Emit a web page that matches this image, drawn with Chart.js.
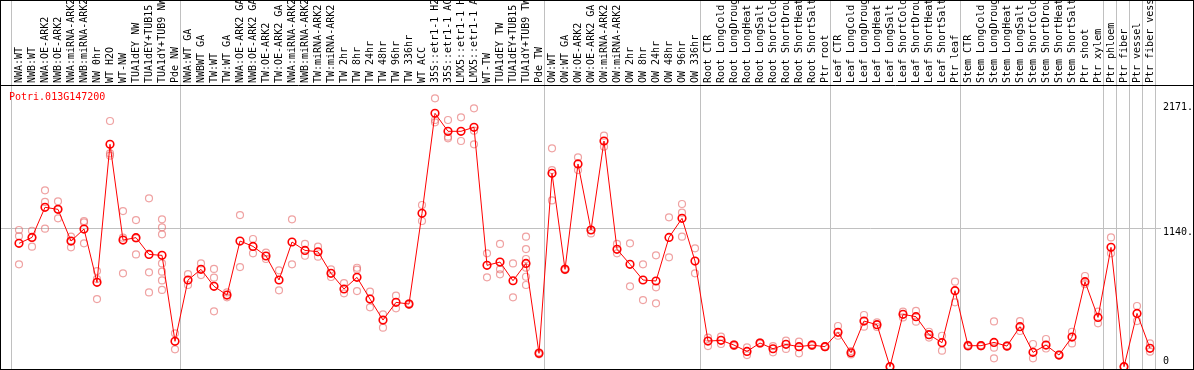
<!DOCTYPE html>
<html>
<head>
<meta charset="utf-8">
<script src="https://cdn.jsdelivr.net/npm/chart.js@4"></script>
<style>
  html, body { margin: 0; padding: 0; background: #fff; }
  canvas { display: block; }
</style>
</head>
<body>
<canvas id="chart" width="1194" height="370"></canvas>
<script>
// gene name shown top-left
const geneName = 'Potri.013G147200';

const categories = [
  'NWA:WT', 'NWB:WT', 'NWA:OE-ARK2', 'NWB:OE-ARK2', 'NWA:miRNA-ARK2', 'NWB:miRNA-ARK2',
  'NW 0hr', 'WT H2O', 'WT-NW', 'TUA1dEY NW', 'TUA1dEY+TUB15', 'TUA1dY+TUB9 NW', 'Pde NW',
  'NWA:WT GA', 'NWBWT GA', 'TW:WT', 'TW:WT GA', 'NWA:OE-ARK2 GA', 'NWB:OE-ARK2 GA',
  'TW:OE-ARK2', 'TW:OE-ARK2 GA', 'NWA:miRNA-ARK2', 'NWB:miRNA-ARK2', 'TW:miRNA-ARK2',
  'TW:miRNA-ARK2', 'TW 2hr', 'TW 8hr', 'TW 24hr', 'TW 48hr', 'TW 96hr', 'TW 336hr',
  'WT ACC', '35S::etr1-1 H2O', '35S::etr1-1 ACC', 'LMX5::etr1-1 H2O', 'LMX5::etr1-1 ACC',
  'WT-TW', 'TUA1dEY TW', 'TUA1dEY+TUB15', 'TUA1dY+TUB9 TW', 'Pde TW',
  'OW:WT', 'OW:WT GA', 'OW:OE-ARK2', 'OW:OE-ARK2 GA', 'OW:miRNA-ARK2', 'OW:miRNA-ARK2',
  'OW 2hr', 'OW 8hr', 'OW 24hr', 'OW 48hr', 'OW 96hr', 'OW 336hr',
  'Root CTR', 'Root LongCold', 'Root LongDrought', 'Root LongHeat', 'Root LongSalt',
  'Root ShortCold', 'Root ShortDrought', 'Root ShortHeat', 'Root ShortSalt', 'Ptr root',
  'Leaf CTR', 'Leaf LongCold', 'Leaf LongDrought', 'Leaf LongHeat', 'Leaf LongSalt',
  'Leaf ShortCold', 'Leaf ShortDrought', 'Leaf ShortHeat', 'Leaf ShortSalt', 'Ptr leaf',
  'Stem CTR', 'Stem LongCold', 'Stem LongDrought', 'Stem LongHeat', 'Stem LongSalt',
  'Stem ShortCold', 'Stem ShortDrought', 'Stem ShortHeat', 'Stem ShortSalt', 'Ptr shoot',
  'Ptr xylem', 'Ptr phloem', 'Ptr fiber', 'Ptr vessel', 'Ptr fiber vessel'
];

// size of each sample group (separators are drawn between groups)
const groupSizes = [13, 28, 12, 10, 10, 11, 1, 1, 1, 1];

const means = [
  1016, 1065, 1313, 1296, 1035, 1134, 695, 1832, 1043, 1063, 925, 917, 209,
  714, 802, 662, 590, 1035, 991, 912, 714, 1027, 958, 947, 769, 640, 736, 557,
  384, 530, 516, 1263, 2087, 1939, 1939, 1972, 835, 862, 708, 851, 110,
  1593, 802, 1670, 1126, 1859, 967, 843, 714, 706, 1065, 1222, 870,
  211, 217, 178, 126, 195, 148, 184, 165, 178, 165,
  283, 115, 376, 346, 0, 431, 412, 264, 198, 626,
  173, 173, 200, 170, 330, 118, 178, 96, 244, 700, 406,
  983, 0, 439, 151
];

const replicates = [
  [1126, 1076, 843], [1120, 1063, 989], [1453, 1357, 1137], [1362, 1296, 1222],
  [1071, 1035, 983], [1200, 1189, 1016], [788, 722, 557], [2024, 1757, 1738],
  [1282, 1063, 769], [1208, 1056, 925], [1387, 777, 612],
  [1214, 1148, 1090, 851, 783, 711, 632], [275, 143],
  [763, 673], [851, 755], [805, 733, 456], [612, 571], [1249, 821], [1052, 934],
  [939, 887], [794, 629], [1214, 843], [1011, 914], [989, 906], [802, 739],
  [689, 604], [815, 800, 623], [618, 489], [431, 321], [585, 481], [522, 510],
  [1332, 1200], [2211, 2032, 2013], [2032, 1895, 1881], [2054, 1859],
  [2128, 1944, 1832], [934, 736], [1011, 802, 761], [851, 571],
  [1071, 969, 887, 816, 741, 673], [118, 102],
  [1799, 1620, 1370], [808, 796], [1725, 1620], [1126, 1098], [1903, 1812],
  [1011, 934], [1016, 662], [843, 549], [917, 654, 522], [1230, 901],
  [1340, 1269, 1071], [975, 769],
  [239, 170], [247, 187], [185, 171], [159, 96], [200, 190], [170, 118],
  [214, 146], [206, 110], [185, 171], [170, 160],
  [335, 255], [129, 101], [426, 330], [365, 327], [0, 0], [453, 406],
  [459, 371], [288, 240], [255, 132], [700, 530],
  [180, 166], [178, 168], [373, 157, 69], [175, 165], [376, 294], [187, 69],
  [228, 150], [100, 92], [288, 192], [747, 680], [453, 357],
  [1065, 934], [0, 0], [500, 376], [192, 124]
];

// right-hand axis labels
const yTickValues = [2171, 1140, 0];
const yTickLabels = ['2171.', '1140.', '0'];
const gridValue = 1140;

const FONT = '10px "DejaVu Sans Mono", monospace';
const HEADER = 85;

const meanPoints = means.map((v, i) => ({ x: i, y: v }));
const repPoints = [];
replicates.forEach((list, i) => {
  list.forEach((v) => repPoints.push({ x: i, y: v }));
});

const decorations = {
  id: 'decorations',
  beforeDatasetsDraw(chart) {
    const ctx = chart.ctx;
    const xs = chart.scales.x;
    const ys = chart.scales.y;
    ctx.save();
    ctx.strokeStyle = '#c0c0c0';
    ctx.lineWidth = 1;

    // group separators, full height including header
    let start = 0;
    const bounds = [0];
    groupSizes.forEach((n) => { start += n; bounds.push(start); });
    bounds.forEach((b) => {
      const px = Math.round(xs.getPixelForValue(b - 0.5) - 1.5) + 0.5;
      ctx.beginPath();
      ctx.moveTo(px, 0);
      ctx.lineTo(px, chart.height);
      ctx.stroke();
    });

    // horizontal grid line
    const gy = Math.round(ys.getPixelForValue(gridValue)) + 0.5;
    ctx.beginPath();
    ctx.moveTo(0, gy);
    ctx.lineTo(1161, gy);
    ctx.stroke();
    ctx.restore();
  },
  afterDraw(chart) {
    const ctx = chart.ctx;
    const xs = chart.scales.x;
    const ys = chart.scales.y;
    ctx.save();
    ctx.font = FONT;

    // header labels, rotated, reading upward
    ctx.fillStyle = '#000';
    ctx.textAlign = 'left';
    ctx.textBaseline = 'middle';
    categories.forEach((label, i) => {
      ctx.save();
      ctx.translate(xs.getPixelForValue(i), HEADER - 2);
      ctx.rotate(-Math.PI / 2);
      ctx.fillText(label, 0, 0);
      ctx.restore();
    });

    // gene name
    ctx.fillStyle = '#ff0000';
    ctx.fillText(geneName, 9, 97);

    // right axis labels
    ctx.fillStyle = '#000';
    yTickValues.forEach((v, k) => {
      const py = ys.getPixelForValue(v);
      const off = v === 0 ? -5 : 4.5;
      ctx.fillText(yTickLabels[k], 1163, py + off);
    });

    // frame
    ctx.strokeStyle = '#000';
    ctx.lineWidth = 1;
    ctx.strokeRect(0.5, 0.5, chart.width - 1, chart.height - 1);
    ctx.beginPath();
    ctx.moveTo(0, HEADER + 0.5);
    ctx.lineTo(chart.width, HEADER + 0.5);
    ctx.stroke();
    ctx.restore();
  }
};

new Chart(document.getElementById('chart'), {
  type: 'scatter',
  data: {
    datasets: [
      {
        type: 'line',
        label: 'mean',
        data: meanPoints,
        borderColor: '#ff0000',
        borderWidth: 1,
        pointRadius: 3.8,
        pointBorderWidth: 1.6,
        pointBorderColor: '#ff0000',
        pointBackgroundColor: 'rgba(0,0,0,0)',
        tension: 0,
        clip: false,
      },
      {
        label: 'replicates',
        data: repPoints,
        pointRadius: 3.5,
        pointBorderWidth: 1.2,
        pointBorderColor: 'rgba(228, 100, 100, 0.6)',
        pointBackgroundColor: 'rgba(0,0,0,0)',
        showLine: false,
        clip: false,
      },
    ],
  },
  options: {
    responsive: false,
    animation: false,
    events: [],
    layout: { autoPadding: false, padding: { top: HEADER, bottom: 1, left: 0, right: 0 } },
    plugins: { legend: { display: false }, tooltip: { enabled: false } },
    scales: {
      x: { type: 'linear', display: false, min: -19 / 13, max: 1175 / 13 },
      y: { type: 'linear', display: false, min: -19, max: 2320.4 },
    },
  },
  plugins: [decorations],
});
</script>
</body>
</html>
